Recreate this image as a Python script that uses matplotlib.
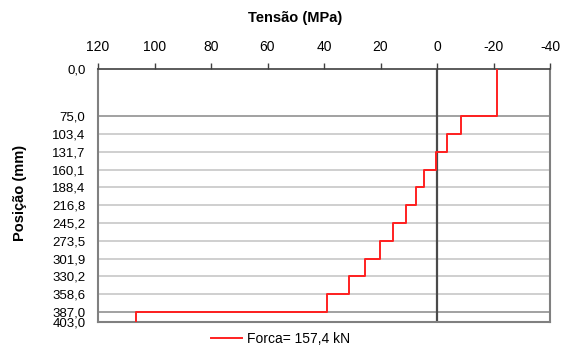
import matplotlib.pyplot as plt

plt.rcParams['font.family'] = ['Liberation Sans', 'DejaVu Sans']

# section boundaries along the depth (mm) and stress in each section (MPa)
posicao = [0.0, 75.0, 103.4, 131.7, 160.1, 188.4, 216.8, 245.2,
           273.5, 301.9, 330.2, 358.6, 387.0, 403.0]
tensao = [-21.2, -8.6, -3.4, 0.3, 4.6, 7.5, 10.8, 15.6,
          20.2, 25.5, 31.3, 39.1, 106.5]
x_ticks = [120, 100, 80, 60, 40, 20, 0, -20, -40]
rotulo = 'Forca= 157,4 kN'

fig = plt.figure(figsize=(5.65, 3.47), dpi=100)
ax = fig.add_axes([98 / 565, 1 - 322 / 347, 452 / 565, 253 / 347])

# horizontal grid at every section boundary
for p in posicao[1:-1]:
    cor = '#9a9a9a' if p in (75.0, 387.0) else '#cccccc'
    ax.axhline(p, color=cor, lw=1.3, zorder=1)

ax.axvline(0, color='#4a4a4a', lw=1.6, zorder=2)

# build the step profile
xs, ys = [], []
for i, t in enumerate(tensao):
    xs += [t, t]
    ys += [posicao[i], posicao[i + 1]]
ax.plot(xs, ys, color='#ff2020', lw=1.4, zorder=3, label=rotulo)

ax.set_xlim(120, -40)
ax.set_ylim(403, 0)
ax.xaxis.tick_top()
ax.set_xticks(x_ticks)
ax.set_xticklabels([str(v) for v in x_ticks], fontsize=10)
ax.tick_params(axis='x', direction='out', length=4, width=1, color='#404040', pad=7)

ax.set_yticks(posicao)
ax.set_yticklabels([f'{p:.1f}'.replace('.', ',') for p in posicao], fontsize=9.5)
ax.tick_params(axis='y', length=0, pad=9)

for s in ('left', 'right', 'bottom'):
    ax.spines[s].set_color('#808080')
    ax.spines[s].set_linewidth(1.5)
ax.spines['top'].set_color('#404040')
ax.spines['top'].set_linewidth(1.2)

fig.text(295 / 565, 1 - 18 / 347, 'Tensão (MPa)', ha='center', va='center',
         fontsize=10.5, fontweight='bold')
fig.text(20 / 565, 1 - 193 / 347, 'Posição (mm)', ha='center', va='center',
         rotation=90, fontsize=10.5, fontweight='bold')

fig.legend(loc='center', bbox_to_anchor=(281 / 565, 1 - 339 / 347), frameon=False,
           fontsize=10, handlelength=2.2, handletextpad=0.4)

fig.savefig('out.png', dpi=100)
